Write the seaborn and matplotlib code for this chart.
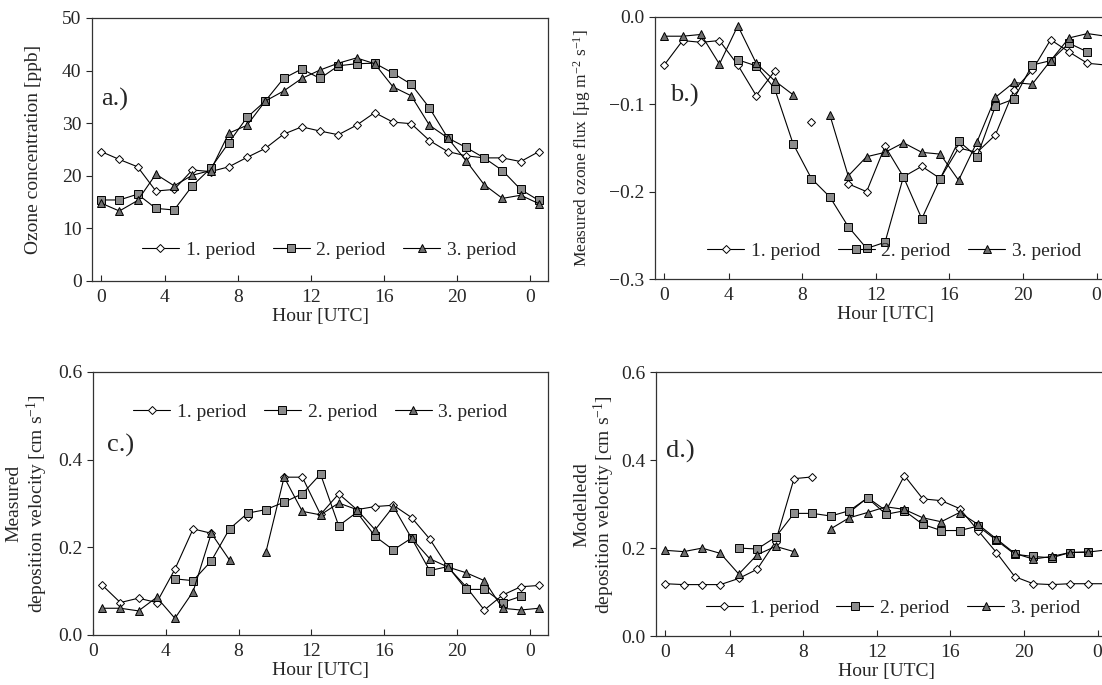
## Diurnal ozone concentration, flux and deposition velocity for three periods

import numpy as np
import pandas as pd
import seaborn as sns
from matplotlib import pyplot as plt
from matplotlib.lines import Line2D

nan = np.nan

hours = [0.5, 1.5, 2.5, 3.5, 4.5, 5.5, 6.5, 7.5, 8.5, 9.5, 10.5, 11.5, 12.5,
         13.5, 14.5, 15.5, 16.5, 17.5, 18.5, 19.5, 20.5, 21.5, 22.5, 23.5, 24.5]
tick_labels = ['0', '4', '8', '12', '16', '20', '0']
periods = ['1. period', '2. period', '3. period']

# a.) ozone concentration [ppb]
conc_p1 = [24.6, 23.1, 21.7, 17.1, 17.4, 21.1, 20.8, 21.7, 23.5, 25.2, 27.9, 29.3, 28.5,
           27.8, 29.6, 32.0, 30.2, 29.9, 26.7, 24.6, 23.8, 23.4, 23.4, 22.7, 24.6]
conc_p2 = [15.4, 15.4, 16.5, 13.8, 13.5, 18.1, 21.4, 26.3, 31.1, 34.2, 38.5, 40.3, 38.5,
           40.9, 41.3, 41.4, 39.5, 37.4, 32.9, 27.2, 25.4, 23.4, 21.0, 17.4, 15.3]
conc_p3 = [14.8, 13.3, 15.3, 20.3, 18.1, 20.1, 21.0, 28.1, 29.6, 34.2, 36.1, 38.5, 40.1,
           41.4, 42.4, 41.3, 36.9, 35.2, 29.6, 27.2, 22.9, 18.3, 15.7, 16.3, 14.7]

# b.) measured ozone flux
flux_p1 = [-0.055, -0.027, -0.029, -0.027, -0.055, -0.090, -0.062, nan, -0.120, nan, -0.191, -0.200, -0.148,
           -0.183, -0.171, -0.185, -0.150, -0.155, -0.135, -0.084, -0.061, -0.026, -0.040, -0.053, -0.055]
flux_p2 = [nan, nan, nan, nan, -0.049, -0.056, -0.082, -0.145, -0.185, -0.206, -0.240, -0.265, -0.258,
           -0.183, -0.231, -0.185, -0.142, -0.160, -0.102, -0.094, -0.055, -0.050, -0.030, -0.040, nan]
flux_p3 = [-0.022, -0.022, -0.020, -0.054, -0.010, -0.053, -0.073, -0.089, nan, -0.112, -0.182, -0.160, -0.155,
           -0.144, -0.155, -0.157, -0.187, -0.143, -0.092, -0.075, -0.077, -0.050, -0.024, -0.019, -0.022]

# c.) measured deposition velocity
vdm_p1 = [0.114, 0.074, 0.084, 0.074, 0.150, 0.242, 0.232, nan, 0.270, nan, 0.360, 0.360, 0.275,
          0.322, 0.286, 0.293, 0.296, 0.268, 0.219, 0.155, 0.110, 0.057, 0.091, 0.110, 0.113]
vdm_p2 = [nan, nan, nan, nan, 0.128, 0.124, 0.169, 0.242, 0.278, 0.286, 0.303, 0.322, 0.367,
          0.249, 0.280, 0.225, 0.194, 0.221, 0.147, 0.156, 0.104, 0.104, 0.074, 0.088, nan]
vdm_p3 = [0.061, 0.061, 0.055, 0.086, 0.038, 0.099, 0.232, 0.171, nan, 0.189, 0.360, 0.282, 0.274,
          0.301, 0.286, 0.240, 0.293, 0.221, 0.174, 0.155, 0.142, 0.124, 0.061, 0.057, 0.061]

# d.) modelled deposition velocity
vdmod_p1 = [0.119, 0.117, 0.117, 0.117, 0.131, 0.152, 0.215, 0.358, 0.362, nan, 0.281, 0.315, 0.285,
            0.365, 0.312, 0.308, 0.290, 0.240, 0.190, 0.135, 0.119, 0.117, 0.119, 0.119, 0.119]
vdmod_p2 = [nan, nan, nan, nan, 0.200, 0.198, 0.225, 0.279, 0.279, 0.273, 0.285, 0.314, 0.277,
            0.285, 0.254, 0.240, 0.240, 0.250, 0.218, 0.186, 0.181, 0.178, 0.190, 0.191, nan]
vdmod_p3 = [0.195, 0.192, 0.200, 0.188, 0.141, 0.185, 0.204, 0.192, nan, 0.244, 0.269, 0.281, 0.294,
            0.288, 0.269, 0.260, 0.281, 0.254, 0.221, 0.188, 0.175, 0.181, 0.190, 0.191, 0.196]

sns.set_style("ticks")
plt.rcParams['font.family'] = ['Liberation Serif', 'DejaVu Serif']
plt.rcParams['mathtext.fontset'] = 'custom'
plt.rcParams['mathtext.rm'] = 'Liberation Serif'
plt.rcParams['mathtext.it'] = 'Liberation Serif:italic'
plt.rcParams['font.size'] = 14

styles = [dict(marker='D', ms=4.0, mfc='white'),
          dict(marker='s', ms=5.5, mfc='#8c8c8c'),
          dict(marker='^', ms=5.5, mfc='#6e6e6e')]


def draw_panel(ax, series, ylim, yticks, xticks, ylabel, letter, letter_pos, leg_pos, label_x,
               label_size=14):
    for vals, st in zip(series, styles):
        d = pd.DataFrame({'hour': hours, 'val': vals})
        # new segment after every gap so lines are broken at missing hours
        d['seg'] = d['val'].isna().cumsum()
        d = d.dropna()
        sns.lineplot(data=d, x='hour', y='val', units='seg', estimator=None, ax=ax,
                     color='black', lw=0.8, marker=st['marker'], markersize=st['ms'],
                     markerfacecolor=st['mfc'], markeredgecolor='black',
                     markeredgewidth=0.7, legend=False)
    ax.set_xlim(0, 25)
    ax.set_ylim(*ylim)
    ax.set_yticks(yticks)
    ax.set_xticks(xticks)
    ax.set_xticklabels(tick_labels)
    ax.tick_params(axis='x', direction='in', length=4, labelsize=14, pad=6)
    ax.tick_params(axis='y', direction='out', length=4, labelsize=14)
    for s in ax.spines.values():
        s.set_color('#333333')
        s.set_linewidth(0.9)
    ax.set_xlabel('Hour [UTC]', fontsize=14, labelpad=1)
    ax.set_ylabel(ylabel, fontsize=label_size, linespacing=1.1)
    ax.yaxis.set_label_coords(label_x, 0.5)
    ax.text(letter_pos[0], letter_pos[1], letter, transform=ax.transAxes,
            fontsize=19, ha='left', va='center')
    handles = [Line2D([], [], color='black', lw=0.8, marker=st['marker'], markersize=st['ms'],
                      markerfacecolor=st['mfc'], markeredgecolor='black', markeredgewidth=0.7)
               for st in styles]
    ax.legend(handles, periods, loc='center', bbox_to_anchor=leg_pos, ncol=3, frameon=False,
              fontsize=14, handlelength=1.9, handletextpad=0.35, columnspacing=0.9,
              borderpad=0, borderaxespad=0)


fig = plt.figure(figsize=(11.02, 6.85), dpi=100)
ax_a = fig.add_axes([0.0835, 0.5898, 0.4138, 0.384])
ax_b = fig.add_axes([0.5944, 0.5927, 0.4174, 0.3825])
ax_c = fig.add_axes([0.0844, 0.0730, 0.4129, 0.384])
ax_d = fig.add_axes([0.5953, 0.0715, 0.4174, 0.385])

ticks_shift = [0.5, 4, 8, 12, 16, 20, 24]
ticks_even = [0, 4, 8, 12, 16, 20, 24]

draw_panel(ax_a, [conc_p1, conc_p2, conc_p3], (0, 50), [0, 10, 20, 30, 40, 50], ticks_shift,
           'Ozone concentration [ppb]', 'a.)', (0.02, 0.69), (0.52, 0.118), -0.11)
draw_panel(ax_b, [flux_p1, flux_p2, flux_p3], (-0.3, 0.0), [-0.3, -0.2, -0.1, 0.0], ticks_shift,
           'Measured ozone flux [µg m$^{-2}$ s$^{-1}$]', 'b.)', (0.033, 0.70), (0.52, 0.107), -0.135,
           label_size=12.5)
draw_panel(ax_c, [vdm_p1, vdm_p2, vdm_p3], (0, 0.6), [0.0, 0.2, 0.4, 0.6], ticks_even,
           'Measured\ndeposition velocity [cm s$^{-1}$]', 'c.)', (0.03, 0.72), (0.50, 0.848), -0.095)
draw_panel(ax_d, [vdmod_p1, vdmod_p2, vdmod_p3], (0, 0.6), [0.0, 0.2, 0.4, 0.6], ticks_shift,
           'Modelledd\ndeposition velocity [cm s$^{-1}$]', 'd.)', (0.022, 0.70), (0.515, 0.106), -0.085)

fig.savefig('out.png', dpi=100)
